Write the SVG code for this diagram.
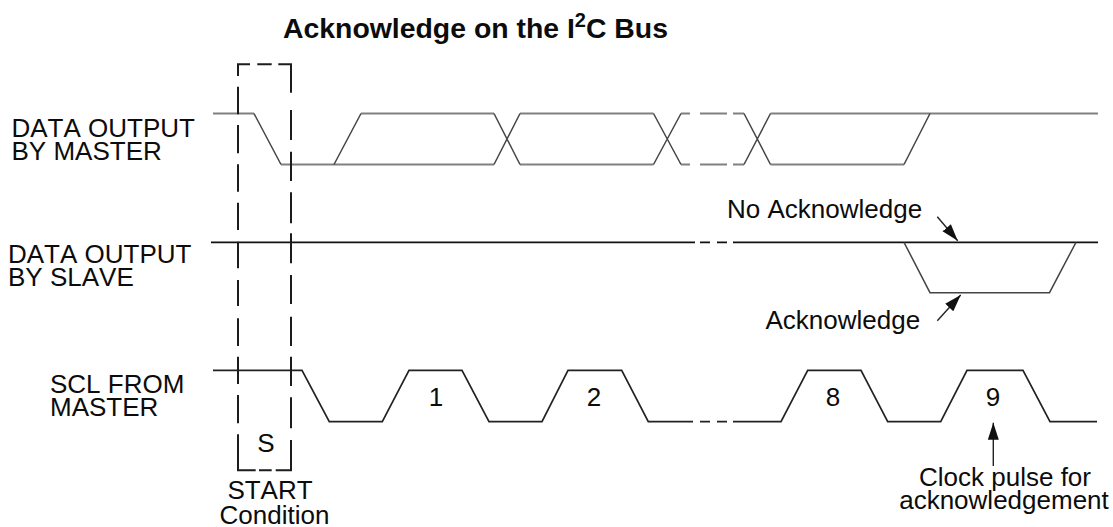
<svg xmlns="http://www.w3.org/2000/svg" width="1113" height="527" viewBox="0 0 1113 527">
<style>
text{font-family:"Liberation Sans",Arial,sans-serif;font-size:26px;fill:#0c0c0c;font-kerning:none}
.m{text-anchor:middle}
.t{font-weight:bold;font-size:28.4px}
path{fill:none}
.h{stroke:#808080;stroke-width:2.2}
.s{stroke:#454545;stroke-width:1.5}
.k{stroke:#111;stroke-width:1.8}
.c{stroke:#222;stroke-width:1.7}
.b{stroke:#1c1c1c;stroke-width:2}
.a{stroke:#222;stroke-width:1.4;marker-end:url(#ah)}
</style>
<defs>
<marker id="ah" markerUnits="userSpaceOnUse" markerWidth="18" markerHeight="12" refX="17" refY="6" orient="auto"><polygon points="0,0.5 17,6 0,11.5" fill="#111"/></marker>
</defs>
<rect width="1113" height="527" fill="#fff"/>
<g id="title"><text class="t" x="283" y="37.7">Acknowledge on the I<tspan dy="-11" font-size="20">2</tspan><tspan dy="11">C Bus</tspan></text></g>
<g id="data-master">
<text x="11.5" y="136.7">DATA OUTPUT</text>
<text x="11.5" y="160">BY MASTER</text>
<path class="h" d="M213 113.5H254M361 113.5H494M520 113.5H653.5M681 113.5H690M770.5 113.5H1098M281 164.5H494M520 164.5H653.5M681 164.5H690M770.5 164.5H904M700 113.5H727M733 113.5H744M700 164.5H727M733 164.5H744"/>
<path class="s" d="M254 113.5L281 164.5M334 164.5L361 113.5M494 113.5L520 164.5M494 164.5L520 113.5M653.5 113.5L681 164.5M653.5 164.5L681 113.5M744 113.5L770.5 164.5M744 164.5L770.5 113.5M904 164.5L930 113.5"/>
</g>
<g id="data-slave">
<text x="8" y="262.7">DATA OUTPUT</text>
<text x="8" y="286">BY SLAVE</text>
<path class="k" d="M211 242.3H695M700 242.3H710M717 242.3H727M733 242.3H1098"/>
<path class="s" d="M904 242.3L930 292.7H1049.5L1076 242.3"/>
</g>
<g id="scl">
<text x="50" y="392.7">SCL FROM</text>
<text x="50" y="416">MASTER</text>
<path class="c" d="M213 370.3H302L329.3 421.7H382.3L409 370.3H462L489 421.7H542L568 370.3H621.7L648.3 421.7H693M700 421.7H710M717 421.7H727M733 421.7H781L807.7 370.3H861L887.7 421.7H940.7L967 370.3H1023L1050 421.7H1097"/>
<text class="m" x="436" y="406">1</text>
<text class="m" x="594" y="406">2</text>
<text class="m" x="833" y="406">8</text>
<text class="m" x="993" y="406">9</text>
</g>
<g id="start-box">
<path class="b" d="M238 76V64.3H250M257.3 64.3H271.7M278.3 64.3H291V92.7M238 86.7V114.3M238 125V153.3M238 164.3V191.7M238 202.7V230M238 241.7V268.3M238 280V306M238 318.3V346M238 356.7V384M238 395V423.3M238 434.3V470.3H255.7M259 470.3H271.7M275.7 470.3H291V440M291 110V140M291 151.7V181M291 192.3V223.3M291 233.3V263.3M291 275V304M291 316.7V346M291 356.7V386M291 397.3V428.3"/>
<text class="m" x="266" y="451.7">S</text>
<text class="m" x="270" y="499">START</text>
<text class="m" x="274.5" y="524.3">Condition</text>
</g>
<g id="no-ack"><text x="727" y="217.7">No Acknowledge</text></g>
<g id="ack"><text x="765.5" y="328.7">Acknowledge</text></g>
<g id="clock-note"><text class="m" x="1005" y="486">Clock pulse for</text><text class="m" x="1004" y="509">acknowledgement</text></g>
<g id="connectors">
<line class="a" x1="937.3" y1="216.7" x2="957.7" y2="240.7"/>
<line class="a" x1="937.3" y1="320.7" x2="960.7" y2="295"/>
<line class="a" x1="993.3" y1="466" x2="993.3" y2="422.7"/>
</g>
</svg>
